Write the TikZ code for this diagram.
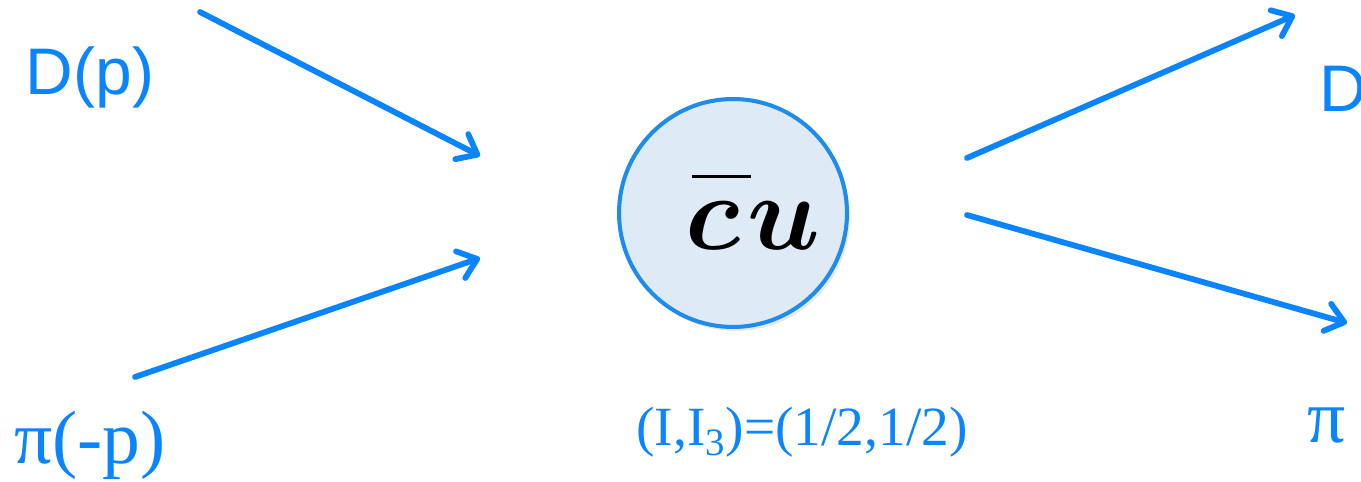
\documentclass[tikz,border=0pt]{standalone}
\usepackage{fontspec}
\usepackage{graphicx}
\setmainfont{Liberation Serif}
\newfontfamily\sansf{Liberation Sans}
\usetikzlibrary{arrows.meta,shadows}
\definecolor{pblue}{RGB}{10,132,255}
\definecolor{lblue}{RGB}{222,234,246}
\definecolor{cblue}{RGB}{30,140,235}
\tikzset{
  flow/.style={draw=pblue,line width=3.3pt,line cap=round,
    -{Straight Barb[length=10pt,width=16pt,line cap=round,line join=round]}},
  sanslbl/.style={text=pblue,font=\sansf\fontsize{37.5}{38}\selectfont,inner sep=0pt},
  seriflbl/.style={text=pblue,font=\fontsize{43}{43}\selectfont,inner sep=0pt},
}
\begin{document}
\begin{tikzpicture}[x=0.02cm,y=-0.02cm]
\useasboundingbox (0,0) rectangle (1361,482);
\node[circle,draw=cblue,line width=2.3pt,fill=lblue,minimum size=4.56cm,inner sep=0pt,
  drop shadow={opacity=0.18,shadow xshift=0.06cm,shadow yshift=-0.08cm}] (q) at (733,213) {};
\node[anchor=base,inner sep=0pt] (qt) at (753,250)
  {\scalebox{2.45}{\Huge\boldmath\rlap{\kern0.06em\rule[0.67em]{0.55em}{0.028em}}$c\mkern1mu u$}};
\node[sanslbl,anchor=base] (dp) at (90,95) {D(p)};
\node[seriflbl,anchor=base] (pp) at (90,463) {π(-p)};
\node[sanslbl,anchor=base west] (dr) at (1319,112) {D};
\node[seriflbl,anchor=base] (pr) at (1327,442) {π};
\node[text=pblue,font=\fontsize{31.5}{32}\selectfont,inner sep=0pt,anchor=base] (iso) at (802,445)
  {(I,I\textsubscript{3})=(1/2,1/2)};
\coordinate (a1s) at (200,12);
\coordinate (a1e) at (480,156);
\coordinate (a2s) at (135,377);
\coordinate (a2e) at (480,258);
\coordinate (a3s) at (967,158);
\coordinate (a3e) at (1295,15);
\coordinate (a4s) at (967,215);
\coordinate (a4e) at (1347,323);
\draw[flow] (a1s) -- (a1e);
\draw[flow] (a2s) -- (a2e);
\draw[flow] (a3s) -- (a3e);
\draw[flow] (a4s) -- (a4e);
\end{tikzpicture}
\end{document}
